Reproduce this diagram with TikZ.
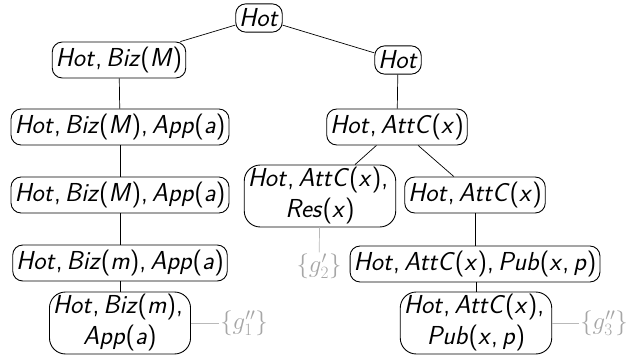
\documentclass[tikz,border=0pt]{standalone}
\usepackage{fontspec}
\newcommand{\vv}[1]{\textit{#1}}
\newcommand{\cm}{,\kern0.16em}
\begin{document}
\begin{tikzpicture}[x=1pt,y=-1pt,
  every node/.style={font=\fontsize{26}{31}\selectfont\sffamily},
  st/.style={draw, rounded corners=10pt, inner xsep=3.5pt, inner ysep=5pt, align=center, line width=0.9pt},
  st2/.style={st, rounded corners=16pt, inner ysep=2.5pt},
  lbl/.style={text=gray!70, font=\fontsize{26}{30}\selectfont, inner sep=1pt},
  edge/.style={line width=0.7pt},
  gedge/.style={draw=gray!55, line width=0.7pt}]
\useasboundingbox (0,0) rectangle (630,356);
\node[st] (r) at (259,18) {\vv{Hot}};
\node[st] (a1) at (119,60) {\vv{Hot}\cm\vv{Biz}(\vv{M})};
\node[st] (b1) at (398,60) {\vv{Hot}};
\node[st] (a2) at (120,127) {\vv{Hot}\cm\vv{Biz}(\vv{M})\cm\vv{App}(\vv{a})};
\node[st] (b2) at (397,127) {\vv{Hot}\cm\vv{AttC}(\vv{x})};
\node[st] (a3) at (120,195) {\vv{Hot}\cm\vv{Biz}(\vv{M})\cm\vv{App}(\vv{a})};
\node[st2] (c3) at (320,196) {\vv{Hot}\cm\vv{AttC}(\vv{x})\cm\\ \vv{Res}(\vv{x})};
\node[st] (b3) at (475,195) {\vv{Hot}\cm\vv{AttC}(\vv{x})};
\node[st] (a4) at (120,263) {\vv{Hot}\cm\vv{Biz}(\vv{m})\cm\vv{App}(\vv{a})};
\node[lbl] (g2) at (319,266) {$\{g_2'\}$};
\node[st] (b4) at (475,264) {\vv{Hot}\cm\vv{AttC}(\vv{x})\cm\vv{Pub}(\vv{x}\cm\vv{p})};
\node[st2] (a5) at (120,323) {\vv{Hot}\cm\vv{Biz}(\vv{m})\cm\\ \vv{App}(\vv{a})};
\node[lbl] (g1) at (244,323) {$\{g_1''\}$};
\node[st2] (b5) at (476,323) {\vv{Hot}\cm\vv{AttC}(\vv{x})\cm\\ \vv{Pub}(\vv{x}\cm\vv{p})};
\node[lbl] (g3) at (604,323) {$\{g_3''\}$};
\draw[edge] (r) -- (a1);
\draw[edge] (r) -- (b1);
\draw[edge] (a1) -- (a2);
\draw[edge] (a2) -- (a3);
\draw[edge] (a3) -- (a4);
\draw[edge] (a4) -- (a5);
\draw[edge] (b1) -- (b2);
\draw[edge] (b2) -- (c3);
\draw[edge] (b2) -- (b3);
\draw[edge] (b3) -- (b4);
\draw[edge] (b4.south -| b5) -- (b5);
\draw[gedge] (c3) -- (g2);
\draw[gedge] (a5) -- (g1);
\draw[gedge] (b5) -- (g3);
\end{tikzpicture}
\end{document}
